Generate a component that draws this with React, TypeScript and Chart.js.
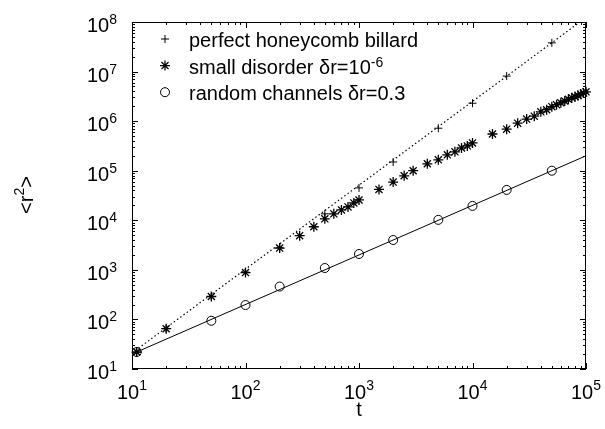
import React, { useEffect, useRef } from 'react';
import { Chart, registerables } from 'chart.js';
import { drawPoint } from 'chart.js/helpers';

Chart.register(...registerables);

// ---- data ----
const perfectT = [11, 20, 50, 100, 200, 500, 1000, 2000, 5000, 10000, 20000, 50000];
const perfectR2 = [22, 65, 290, 900, 2800, 13500, 45000, 150000, 720000, 2300000, 8100000, 38000000];

const disorderT = [
  11, 20, 50, 100, 200, 300, 400, 500, 600, 700, 800, 900, 1000,
  1500, 2000, 2500, 3000, 4000, 5000, 6000, 7000, 8000, 9000, 10000,
  15000, 20000, 25000, 30000, 35000, 40000, 45000, 50000, 55000, 60000,
  65000, 70000, 75000, 80000, 85000, 90000, 95000, 100000,
];
const disorderR2 = [
  22, 65, 290, 880, 2750, 4900, 7400, 10700, 13500, 16200, 18600, 22400, 25700,
  42000, 59000, 79000, 100000, 138000, 166000, 209000, 240000, 288000, 317000, 364000,
  550000, 690000, 910000, 1100000, 1260000, 1540000, 1700000, 1960000, 2150000, 2350000,
  2550000, 2750000, 2950000, 3100000, 3300000, 3500000, 3700000, 3900000,
];

const randomT = [11, 50, 100, 200, 500, 1000, 2000, 5000, 10000, 20000, 50000];
const randomR2 = [22, 94, 195, 460, 1090, 2090, 4000, 10200, 19500, 41000, 100000];

// fitted lines (end points)
const perfectFitT = [10, 100000];
const perfectFitR2 = [21, 123000000];
const randomFitT = [10, 100000];
const randomFitR2 = [20, 200000];

// axes
const xMin = 10;
const xMax = 100000;
const yMin = 10;
const yMax = 100000000;
const xTickValues = [10, 100, 1000, 10000, 100000];
const yTickValues = [10, 100, 1000, 10000, 100000, 1000000, 10000000, 100000000];

const legendLabels = [
  { text: 'perfect honeycomb billard', sup: '' },
  { text: 'small disorder \u03b4r=10', sup: '-6' },
  { text: 'random channels \u03b4r=0.3', sup: '' },
];
const legendStyles = ['cross', 'star', 'circle'];

const xTitle = 't';
const yTitleBase = '<r';
const yTitleSup = '2';
const yTitleEnd = '>';

const FONT = '"Liberation Sans", Arial, Helvetica, sans-serif';

function toXY(xs: number[], ys: number[]) {
  return xs.map((x, i) => ({ x, y: ys[i] }));
}

function drawPow(
  ctx: CanvasRenderingContext2D,
  base: string,
  exp: string,
  x: number,
  y: number,
  align: 'left' | 'right' | 'center',
  size = 20,
  expSize = 13,
  raise = 8,
) {
  ctx.font = `${size}px ${FONT}`;
  const wb = ctx.measureText(base).width;
  ctx.font = `${expSize}px ${FONT}`;
  const we = exp ? ctx.measureText(exp).width : 0;
  const total = wb + we;
  const x0 = align === 'left' ? x : align === 'right' ? x - total : x - total / 2;
  ctx.textAlign = 'left';
  ctx.textBaseline = 'alphabetic';
  ctx.font = `${size}px ${FONT}`;
  ctx.fillText(base, x0, y);
  if (exp) {
    ctx.font = `${expSize}px ${FONT}`;
    ctx.fillText(exp, x0 + wb, y - raise);
  }
  return total;
}

const framePlugin = {
  id: 'gnuframe',
  beforeDatasetsDraw(chart: any) {
    const { ctx, chartArea } = chart;
    const { left, right, top, bottom } = chartArea;
    const xs = chart.scales.x;
    const ys = chart.scales.y;
    ctx.save();
    ctx.strokeStyle = '#000';
    ctx.lineWidth = 1;
    ctx.strokeRect(left + 0.5, top + 0.5, right - left - 1, bottom - top - 1);
    const major = 6;
    const minor = 3;
    ctx.beginPath();
    for (let d = xMin; d <= xMax; d *= 10) {
      for (let m = 1; m <= 9; m++) {
        const v = d * m;
        if (v > xMax * 1.0001) break;
        const px = Math.round(xs.getPixelForValue(v)) + 0.5;
        const len = m === 1 ? major : minor;
        ctx.moveTo(px, bottom);
        ctx.lineTo(px, bottom - len);
        ctx.moveTo(px, top);
        ctx.lineTo(px, top + len);
      }
    }
    for (let d = yMin; d <= yMax; d *= 10) {
      for (let m = 1; m <= 9; m++) {
        const v = d * m;
        if (v > yMax * 1.0001) break;
        const py = Math.round(ys.getPixelForValue(v)) + 0.5;
        const len = m === 1 ? major : minor;
        ctx.moveTo(left, py);
        ctx.lineTo(left + len, py);
        ctx.moveTo(right, py);
        ctx.lineTo(right - len, py);
      }
    }
    ctx.stroke();
    ctx.restore();
  },
  afterDraw(chart: any) {
    const { ctx, chartArea } = chart;
    const { left, bottom } = chartArea;
    const xs = chart.scales.x;
    const ys = chart.scales.y;
    ctx.save();
    ctx.fillStyle = '#000';
    xTickValues.forEach((v) => {
      const px = xs.getPixelForValue(v);
      drawPow(ctx, '10', String(Math.round(Math.log10(v))), px, bottom + 30, 'center', 20, 14, 9);
    });
    yTickValues.forEach((v) => {
      const py = ys.getPixelForValue(v);
      drawPow(ctx, '10', String(Math.round(Math.log10(v))), left - 15, py + 10, 'right', 20, 14, 8);
    });
    ctx.font = `20px ${FONT}`;
    ctx.textAlign = 'center';
    ctx.textBaseline = 'alphabetic';
    ctx.fillText(xTitle, (chartArea.left + chartArea.right) / 2, bottom + 47);
    ctx.save();
    ctx.translate(33, 195);
    ctx.rotate(-Math.PI / 2);
    ctx.font = `20px ${FONT}`;
    const w1 = ctx.measureText(yTitleBase).width;
    const w3 = ctx.measureText(yTitleEnd).width;
    ctx.font = `14px ${FONT}`;
    const w2 = ctx.measureText(yTitleSup).width;
    const tot = w1 + w2 + w3;
    const x0 = -tot / 2;
    ctx.textAlign = 'left';
    ctx.font = `20px ${FONT}`;
    ctx.fillText(yTitleBase, x0, 0);
    ctx.font = `14px ${FONT}`;
    ctx.fillText(yTitleSup, x0 + w1, -9);
    ctx.font = `20px ${FONT}`;
    ctx.fillText(yTitleEnd, x0 + w1 + w2, 0);
    ctx.restore();
    const radii = [4, 5, 4.5];
    legendLabels.forEach((lab, i) => {
      const baseY = 47 + i * 26.6;
      ctx.strokeStyle = '#000';
      ctx.fillStyle = 'rgba(0,0,0,0)';
      ctx.lineWidth = i === 1 ? 1.3 : 1;
      drawPoint(ctx, { pointStyle: legendStyles[i], radius: radii[i], borderWidth: ctx.lineWidth, rotation: 0 } as any, 165, baseY - 8);
      ctx.fillStyle = '#000';
      drawPow(ctx, lab.text, lab.sup, 189, baseY, 'left', 20, 14, 7);
    });
    ctx.restore();
  },
};

export default function App() {
  const ref = useRef<HTMLCanvasElement | null>(null);
  useEffect(() => {
    if (!ref.current) return;
    const chart = new Chart(ref.current, {
      type: 'line',
      data: {
        datasets: [
          {
            label: 'perfect',
            data: toXY(perfectT, perfectR2),
            showLine: false,
            pointStyle: 'cross',
            pointRadius: 4,
            pointBorderWidth: 1,
            borderColor: '#000',
            backgroundColor: 'rgba(0,0,0,0)',
            clip: false as any,
          },
          {
            label: 'perfect fit',
            data: toXY(perfectFitT, perfectFitR2),
            showLine: true,
            borderDash: [1.5, 2.5],
            borderWidth: 1.2,
            borderColor: '#000',
            pointRadius: 0,
            tension: 0,
            clip: 0 as any,
          },
          {
            label: 'disorder',
            data: toXY(disorderT, disorderR2),
            showLine: false,
            pointStyle: 'star',
            pointRadius: 5,
            pointBorderWidth: 1.3,
            borderColor: '#000',
            backgroundColor: 'rgba(0,0,0,0)',
            clip: false as any,
          },
          {
            label: 'random',
            data: toXY(randomT, randomR2),
            showLine: false,
            pointStyle: 'circle',
            pointRadius: 4.5,
            pointBorderWidth: 1,
            borderColor: '#000',
            backgroundColor: 'rgba(0,0,0,0)',
            clip: false as any,
          },
          {
            label: 'random fit',
            data: toXY(randomFitT, randomFitR2),
            showLine: true,
            borderWidth: 1,
            borderColor: '#000',
            pointRadius: 0,
            tension: 0,
            clip: 0 as any,
          },
        ],
      },
      options: {
        animation: false,
        responsive: false,
        events: [],
        layout: { padding: { left: 132, top: 22, right: 19, bottom: 60 } },
        scales: {
          x: { type: 'logarithmic', min: xMin, max: xMax, display: false },
          y: { type: 'logarithmic', min: yMin, max: yMax, display: false },
        },
        plugins: {
          legend: { display: false },
          tooltip: { enabled: false },
          title: { display: false },
        },
      },
      plugins: [framePlugin],
    });
    return () => chart.destroy();
  }, []);
  return (
    <div style={{ position: 'absolute', left: 0, top: 0, width: 605, height: 429, background: '#fff' }}>
      <canvas ref={ref} width={605} height={429} style={{ display: 'block' }} />
    </div>
  );
}
